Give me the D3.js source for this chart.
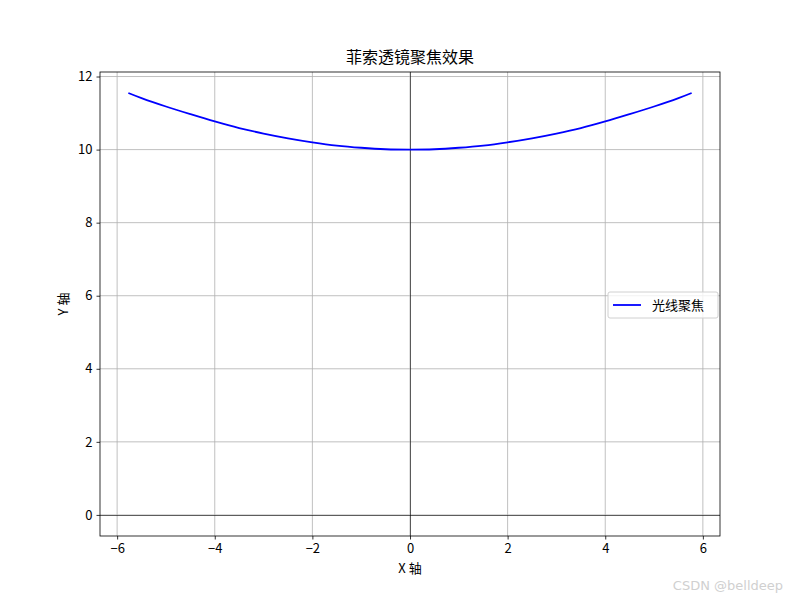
<!DOCTYPE html>
<html><head><meta charset="utf-8">
<script src="https://cdn.jsdelivr.net/npm/d3@7"></script>
<style>body{margin:0;background:#fff}svg{font-family:"Noto Sans CJK SC","DejaVu Sans",sans-serif}</style>
</head><body><svg id="c" width="800" height="600"></svg>
<script>
const xs = [-5.77,-5.5,-5,-4.5,-4,-3.5,-3,-2.5,-2,-1.5,-1,-0.5,0,0.5,1,1.5,2,2.5,3,3.5,4,4.5,5,5.5,5.77];
const ys = [11.55,11.41,11.18,10.97,10.77,10.59,10.44,10.31,10.20,10.11,10.05,10.01,10.00,10.01,10.05,10.11,10.20,10.31,10.44,10.59,10.77,10.97,11.18,11.41,11.55];
const xTicks = [-6,-4,-2,0,2,4,6];
const yTicks = [0,2,4,6,8,10,12];
const title = "菲索透镜聚焦效果";
const xLabel = "X 轴", yLabel = "Y 轴", seriesName = "光线聚焦";

const svg = d3.select("#c");
const L=100,R=720,T=72,B=536;
const x = d3.scaleLinear().domain([-6.351,6.351]).range([L,R]);
const y = d3.scaleLinear().domain([-0.577,12.124]).range([B,T]);
const fmt = d => (d<0?"\u2212":"")+Math.abs(d);

// grid
const g = svg.append("g");
g.selectAll(".gx").data(xTicks).join("line").attr("x1",d=>x(d)).attr("x2",d=>x(d)).attr("y1",T).attr("y2",B).attr("stroke","#b0b0b0").attr("stroke-width",0.8);
g.selectAll(".gy").data(yTicks).join("line").attr("y1",d=>y(d)).attr("y2",d=>y(d)).attr("x1",L).attr("x2",R).attr("stroke","#b0b0b0").attr("stroke-width",0.8);
// zero lines
svg.append("line").attr("x1",L).attr("x2",R).attr("y1",Math.round(y(0))+0.5).attr("y2",Math.round(y(0))+0.5).attr("stroke","#000").attr("stroke-width",0.6);
svg.append("line").attr("x1",Math.round(x(0))+0.5).attr("x2",Math.round(x(0))+0.5).attr("y1",T).attr("y2",B).attr("stroke","#000").attr("stroke-width",0.6);

// curve
const pts = xs.map((v,i)=>[v,ys[i]]);
svg.append("path").datum(pts).attr("d",d3.line().x(d=>x(d[0])).y(d=>y(d[1])).curve(d3.curveCatmullRom))
  .attr("fill","none").attr("stroke","#0000ff").attr("stroke-width",1.8);

// axes
const ax = svg.append("g").attr("transform",`translate(0,${B})`).call(d3.axisBottom(x).tickValues(xTicks).tickFormat(fmt).tickSize(3.5).tickPadding(4));
const ay = svg.append("g").attr("transform",`translate(${L},0)`).call(d3.axisLeft(y).tickValues(yTicks).tickFormat(fmt).tickSize(3.5).tickPadding(4));
[ax,ay].forEach(a=>{a.select(".domain").remove();a.selectAll("text").attr("font-size",13).attr("fill","#000").attr("font-family","'Noto Sans CJK SC',sans-serif");a.selectAll("line").attr("stroke","#000").attr("stroke-width",0.8);});
svg.append("rect").attr("x",L).attr("y",T).attr("width",R-L).attr("height",B-T).attr("fill","none").attr("stroke","#000").attr("stroke-width",0.8);

// labels
svg.append("text").attr("x",(L+R)/2).attr("y",63).attr("text-anchor","middle").attr("font-size",16).text(title);
svg.append("text").attr("x",(L+R)/2).attr("y",573).attr("text-anchor","middle").attr("font-size",13).attr("xml:space","preserve").text(xLabel);
svg.append("text").attr("transform",`translate(68,${(T+B)/2}) rotate(-90)`).attr("text-anchor","middle").attr("font-size",13).text(yLabel);

// legend
const lg = svg.append("g").attr("transform","translate(608,292)");
lg.append("rect").attr("width",110).attr("height",26).attr("rx",2).attr("fill","#fff").attr("fill-opacity",0.8).attr("stroke","#d0d0d0");
lg.append("line").attr("x1",5).attr("x2",33).attr("y1",13).attr("y2",13).attr("stroke","#0000ff").attr("stroke-width",1.8);
lg.append("text").attr("x",44).attr("y",18).attr("font-size",13).text(seriesName);

// watermark
svg.append("text").attr("x",783).attr("y",590).attr("text-anchor","end").attr("font-size",13).attr("fill","#d0d0d0").attr("font-family","'DejaVu Sans',sans-serif").text("CSDN @belldeep");
</script></body></html>
